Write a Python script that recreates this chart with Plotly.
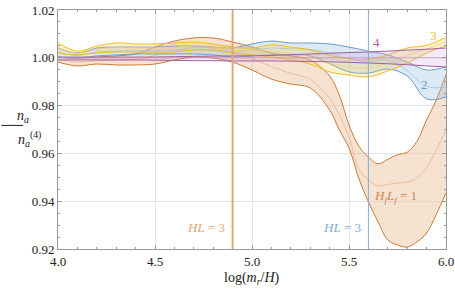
import plotly.graph_objects as go

# ---------------- data ----------------
x_or = [4.0, 4.1, 4.2, 4.3, 4.4, 4.5, 4.6, 4.7, 4.8, 4.9, 5.0, 5.1, 5.2, 5.3, 5.4,
        5.45, 5.5, 5.55, 5.6, 5.65, 5.7, 5.75, 5.8, 5.85, 5.9, 5.95, 6.0]
or_up = [1.0003, 0.9999, 1.0003, 1.0008, 1.0016, 1.0045, 1.0070, 1.0083, 1.0083, 1.0066,
         1.0045, 1.0020, 1.0008, 0.9991, 0.9924, 0.9844, 0.9719, 0.9631, 0.9585, 0.9556,
         0.9575, 0.9595, 0.9605, 0.9650, 0.9740, 0.9823, 0.9930]
or_lo = [0.9982, 0.9966, 0.9974, 0.9970, 0.9970, 0.9974, 0.9991, 1.0003, 0.9999, 0.9982,
         0.9949, 0.9911, 0.9890, 0.9874, 0.9782, 0.9698, 0.9623, 0.9497, 0.9397, 0.9313,
         0.9238, 0.9217, 0.9208, 0.9230, 0.9267, 0.9345, 0.9434]
or_mid = [0.9993, 0.9983, 0.9988, 0.9990, 0.9993, 1.0010, 1.0030, 1.0043, 1.0041, 1.0024,
          0.9997, 0.9963, 0.9935, 0.9910, 0.9830, 0.9760, 0.9669, 0.9535, 0.9489, 0.9464,
          0.9470, 0.9476, 0.9480, 0.9497, 0.9539, 0.9614, 0.9698]

x_c = [4.0, 4.1, 4.2, 4.3, 4.4, 4.5, 4.6, 4.7, 4.8, 4.9, 5.0,
       5.1, 5.2, 5.3, 5.4, 5.5, 5.6, 5.7, 5.8, 5.9, 6.0]
bl_up = [1.0041, 1.0020, 1.0041, 1.0045, 1.0045, 1.0045, 1.0049, 1.0049, 1.0045, 1.0041, 1.0058,
         1.0070, 1.0062, 1.0062, 1.0058, 1.0045, 1.0028, 1.0012, 0.9982, 0.9949, 0.9962]
bl_lo = [1.0003, 0.9999, 1.0008, 1.0012, 1.0016, 1.0016, 1.0016, 1.0016, 1.0012, 1.0003, 1.0008,
         1.0012, 1.0012, 1.0008, 0.9975, 0.9941, 0.9936, 0.9953, 0.9924, 0.9828, 0.9836]
bl_mid = [1.0022, 1.0010, 1.0024, 1.0028, 1.0030, 1.0030, 1.0032, 1.0032, 1.0030, 1.0022, 1.0033,
          1.0041, 1.0037, 1.0035, 1.0020, 0.9995, 0.9985, 0.9991, 0.9945, 0.9880, 0.9878]

ye_up = [1.0062, 1.0028, 1.0049, 1.0062, 1.0058, 1.0058, 1.0062, 1.0066, 1.0058, 1.0045, 1.0041,
         1.0054, 1.0045, 1.0033, 1.0010, 0.9997, 0.9993, 1.0012, 1.0041, 1.0052, 1.0085]
ye_lo = [1.0020, 1.0012, 1.0020, 1.0024, 1.0024, 1.0024, 1.0024, 1.0033, 1.0033, 1.0020, 1.0012,
         1.0003, 0.9991, 0.9974, 0.9941, 0.9928, 0.9920, 0.9945, 0.9978, 1.0020, 1.0050]
ye_mid = [1.0041, 1.0020, 1.0035, 1.0043, 1.0041, 1.0041, 1.0043, 1.0050, 1.0046, 1.0033, 1.0027,
          1.0029, 1.0018, 1.0004, 0.9976, 0.9962, 0.9957, 0.9978, 1.0010, 1.0036, 1.0068]

pu_up = [1.0003, 1.0003, 1.0003, 1.0003, 1.0003, 1.0003, 1.0005, 1.0006, 1.0007, 1.0008, 1.0008,
         1.0010, 1.0013, 1.0016, 1.0019, 1.0022, 1.0024, 1.0028, 1.0032, 1.0036, 1.0041]
pu_lo = [0.9991, 0.9991, 0.9991, 0.9991, 0.9991, 0.9990, 0.9989, 0.9988, 0.9988, 0.9987, 0.9987,
         0.9987, 0.9986, 0.9985, 0.9983, 0.9981, 0.9978, 0.9975, 0.9971, 0.9966, 0.9962]
pu_mid = [1.0] * len(x_c)

hl_orange = 4.9
hl_blue = 5.6

x_ticks = [4.0, 4.5, 5.0, 5.5, 6.0]
y_ticks = [0.92, 0.94, 0.96, 0.98, 1.00, 1.02]

FONT = "Liberation Serif, serif"

fig = go.Figure()


def band(x, lo, up, mid, edge, fill, midc, w=1):
    fig.add_trace(go.Scatter(x=x, y=lo, mode="lines", line=dict(color=edge, width=w, shape="spline"),
                             showlegend=False, hoverinfo="skip"))
    fig.add_trace(go.Scatter(x=x, y=up, mode="lines", line=dict(color=edge, width=w, shape="spline"),
                             fill="tonexty", fillcolor=fill, showlegend=False, hoverinfo="skip"))
    fig.add_trace(go.Scatter(x=x, y=mid, mode="lines", line=dict(color=midc, width=0.8, shape="spline"),
                             showlegend=False, hoverinfo="skip"))


band(x_or, or_lo, or_up, or_mid, "#cc7b35", "rgba(236,190,150,0.45)", "rgba(232,176,130,0.9)")
band(x_c, bl_lo, bl_up, bl_mid, "#6a9ecb", "rgba(150,190,225,0.33)", "rgba(150,188,220,0.9)")
band(x_c, ye_lo, ye_up, ye_mid, "#f5bd1f", "rgba(245,205,90,0.28)", "rgba(242,205,110,0.9)")
band(x_c, pu_lo, pu_up, pu_mid, "#a45f9e", "rgba(200,160,210,0.22)", "rgba(190,140,190,0.8)", w=1)

# vertical lines
fig.add_shape(type="line", x0=hl_orange, x1=hl_orange, y0=0, y1=1, xref="x", yref="paper",
              line=dict(color="#e3a675", width=2))
fig.add_shape(type="line", x0=hl_blue, x1=hl_blue, y0=0, y1=1, xref="x", yref="paper",
              line=dict(color="#84acd4", width=1))

ann = [
    dict(x=hl_orange - 0.03, y=0.9288, text="<i>HL</i> = 3", color="#e3a675", xanchor="right"),
    dict(x=hl_blue - 0.03, y=0.9288, text="<i>HL</i> = 3", color="#84acd4", xanchor="right"),
    dict(x=5.74, y=0.9420, text="<i>H<sub>f</sub>L<sub>f</sub></i> = 1", color="#cc8a50", xanchor="center"),
    dict(x=5.887, y=0.9890, text="2", color="#6a9ecb", xanchor="center"),
    dict(x=5.933, y=1.0095, text="3", color="#f5bd1f", xanchor="center"),
    dict(x=5.64, y=1.0066, text="4", color="#a45f9e", xanchor="center"),
]
for a in ann:
    fig.add_annotation(x=a["x"], y=a["y"], text=a["text"], showarrow=False, xanchor=a["xanchor"],
                       yanchor="middle", font=dict(family=FONT, size=13, color=a["color"]))

# y-axis fraction label
fig.add_annotation(xref="paper", yref="paper", x=-0.112, y=0.555, text="<i>n<sub>a</sub></i>",
                   showarrow=False, font=dict(family=FONT, size=14, color="#222"))
fig.add_shape(type="line", xref="paper", yref="paper", x0=-0.146, x1=-0.090, y0=0.517, y1=0.517,
              line=dict(color="#222", width=1))
fig.add_annotation(xref="paper", yref="paper", x=-0.108, y=0.462,
                   text="<i>n<sub>a</sub></i><sup>(4)</sup>",
                   showarrow=False, font=dict(family=FONT, size=14, color="#222"))
# x-axis title
fig.add_annotation(xref="paper", yref="paper", x=0.5, y=-0.125, yanchor="middle",
                   text="log(<i>m<sub>r</sub></i>/<i>H</i>)", showarrow=False,
                   font=dict(family=FONT, size=14, color="#222"))

axis_common = dict(showline=True, linecolor="#9a9a9a", linewidth=1, mirror="allticks",
                   ticks="inside", ticklen=4, tickcolor="#9a9a9a", showgrid=True,
                   gridcolor="#e6e6e6", gridwidth=1, zeroline=False, automargin=False,
                   tickfont=dict(family=FONT, size=13, color="#222"))

fig.update_xaxes(range=[4.0, 6.0], tickvals=x_ticks, ticktext=[f"{v:.1f}" for v in x_ticks],
                 minor=dict(dtick=0.1, ticks="inside", ticklen=2, tickcolor="#9a9a9a", showgrid=False),
                 **axis_common)
fig.update_yaxes(range=[0.92, 1.02], tickvals=y_ticks, ticktext=[f"{v:.2f}" for v in y_ticks],
                 minor=dict(dtick=0.005, ticks="inside", ticklen=2, tickcolor="#9a9a9a", showgrid=False),
                 **axis_common)

fig.update_layout(width=455, height=294, margin=dict(l=58, r=9, t=10, b=45),
                  plot_bgcolor="white", paper_bgcolor="white", showlegend=False)

fig.write_html("out.html", config={"displayModeBar": False},
               post_script="document.body.style.margin='0';document.body.style.overflow='hidden';")
